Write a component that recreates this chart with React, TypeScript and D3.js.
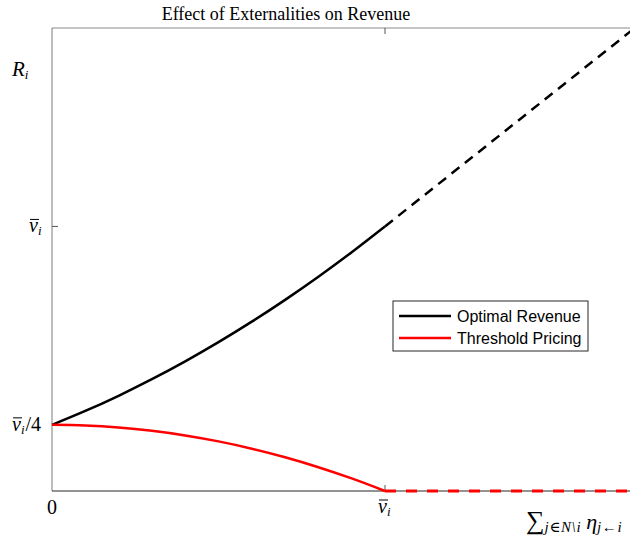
import * as d3 from "d3";

// x positions (in units of v̄_i) and the two curves
const xSolid = [0, 0.1, 0.2, 0.3, 0.4, 0.5, 0.6, 0.7, 0.8, 0.9, 1.0];
const optimalSolid = [0.25, 0.3025, 0.36, 0.4225, 0.49, 0.5625, 0.64, 0.7225, 0.81, 0.9025, 1.0];
const thresholdSolid = [0.25, 0.2475, 0.24, 0.2275, 0.21, 0.1875, 0.16, 0.1275, 0.09, 0.0475, 0];

const xDashed = [1.0, 1.75];
const optimalDashed = [1.0, 1.75];
const thresholdDashed = [0, 0];

const xTicks = [0, 1];
const yTicks = [0.25, 1];

const W = 630;
const H = 540;
const left = 52;
const top = 28;
const bottom = 491;

const serif = "'Liberation Serif', 'DejaVu Serif', serif";
const sans = "'Liberation Sans', Arial, sans-serif";

// v with a bar and subscript i, left-anchored at (x, y) baseline
const VBar = ({ x, y, suffix }: { x: number; y: number; suffix?: string }) => (
    <g>
        <text x={x} y={y} fontFamily={serif} fontSize={20}>
            <tspan fontStyle="italic">v</tspan>
            <tspan fontStyle="italic" fontSize={13} dy={3}>i</tspan>
            {suffix ? <tspan dy={-3} dx={1}>{suffix}</tspan> : null}
        </text>
        <line x1={x + 1} x2={x + 10} y1={y - 13} y2={y - 13} stroke="#000" strokeWidth={1} />
    </g>
);

const App = () => {
    const x = d3.scaleLinear().domain([0, 1.75]).range([left, left + 1.75 * 333]);
    const y = d3.scaleLinear().domain([0, 1.75]).range([bottom, top]);

    const line = d3.line<[number, number]>()
        .x(d => x(d[0]))
        .y(d => y(d[1]))
        .curve(d3.curveMonotoneX);

    const pts = (xs: number[], ys: number[]) => xs.map((v, i) => [v, ys[i]] as [number, number]);

    return (
        <svg width={W} height={H} style={{ position: "absolute", left: 0, top: 0, background: "#fff" }}>
            <rect width={W} height={H} fill="#fff" />
            {/* axes box */}
            <line x1={left} x2={W} y1={top} y2={top} stroke="#8a8a8a" strokeWidth={1} />
            <line x1={left} x2={left} y1={top} y2={bottom} stroke="#7a7a7a" strokeWidth={1} />
            <line x1={left} x2={W} y1={bottom} y2={bottom} stroke="#262626" strokeWidth={1} />

            {xTicks.filter(t => t > 0).map(t => (
                <g key={t}>
                    <line x1={x(t)} x2={x(t)} y1={bottom} y2={bottom - 6} stroke="#555" />
                    <line x1={x(t)} x2={x(t)} y1={top} y2={top + 6} stroke="#555" />
                </g>
            ))}
            {yTicks.map(t => (
                <line key={t} x1={left} x2={left + 6} y1={y(t)} y2={y(t)} stroke="#555" />
            ))}

            {/* x tick labels */}
            <text x={x(0)} y={bottom + 23} textAnchor="middle" fontFamily={serif} fontSize={20}>0</text>
            <VBar x={x(1) - 7} y={bottom + 22} />

            {/* y tick labels */}
            <VBar x={12} y={y(0.25) + 6} suffix="/4" />
            <VBar x={29} y={y(1) + 6} />

            {/* axis labels */}
            <text x={12} y={76} fontFamily={serif} fontSize={21}>
                <tspan fontStyle="italic">R</tspan>
                <tspan fontStyle="italic" fontSize={13} dy={3}>i</tspan>
            </text>
            <text x={526} y={529} fontFamily={serif} fontSize={26}>
                <tspan>∑</tspan>
                <tspan fontStyle="italic" fontSize={15} dy={3} letterSpacing={0.6}>j∈N\i</tspan>
                <tspan fontStyle="italic" fontSize={22} dy={-3} dx={5}>η</tspan>
                <tspan fontStyle="italic" fontSize={15} dy={3} letterSpacing={0.6}>j←i</tspan>
            </text>

            {/* title */}
            <text x={286} y={20} textAnchor="middle" fontFamily={serif} fontSize={18}>
                Effect of Externalities on Revenue
            </text>

            {/* data */}
            <path d={line(pts(xSolid, optimalSolid)) ?? ""} fill="none" stroke="#000" strokeWidth={2.5} />
            <path d={line(pts(xDashed, optimalDashed)) ?? ""} fill="none" stroke="#000" strokeWidth={2.5} strokeDasharray="10,7" />
            <path d={line(pts(xSolid, thresholdSolid)) ?? ""} fill="none" stroke="#ff0000" strokeWidth={2.5} />
            <path d={line(pts(xDashed, thresholdDashed)) ?? ""} fill="none" stroke="#ff0000" strokeWidth={3} strokeDasharray="11,10" />

            {/* legend */}
            <g transform="translate(393,301)">
                <rect width={195} height={50} fill="#fff" stroke="#262626" strokeWidth={1} />
                <line x1={6} x2={58} y1={15} y2={15} stroke="#000" strokeWidth={2.5} />
                <text x={64} y={20.5} fontFamily={sans} fontSize={16}>Optimal Revenue</text>
                <line x1={6} x2={58} y1={37} y2={37} stroke="#ff0000" strokeWidth={2.5} />
                <text x={64} y={42.5} fontFamily={sans} fontSize={16}>Threshold Pricing</text>
            </g>
        </svg>
    );
};

export default App;
